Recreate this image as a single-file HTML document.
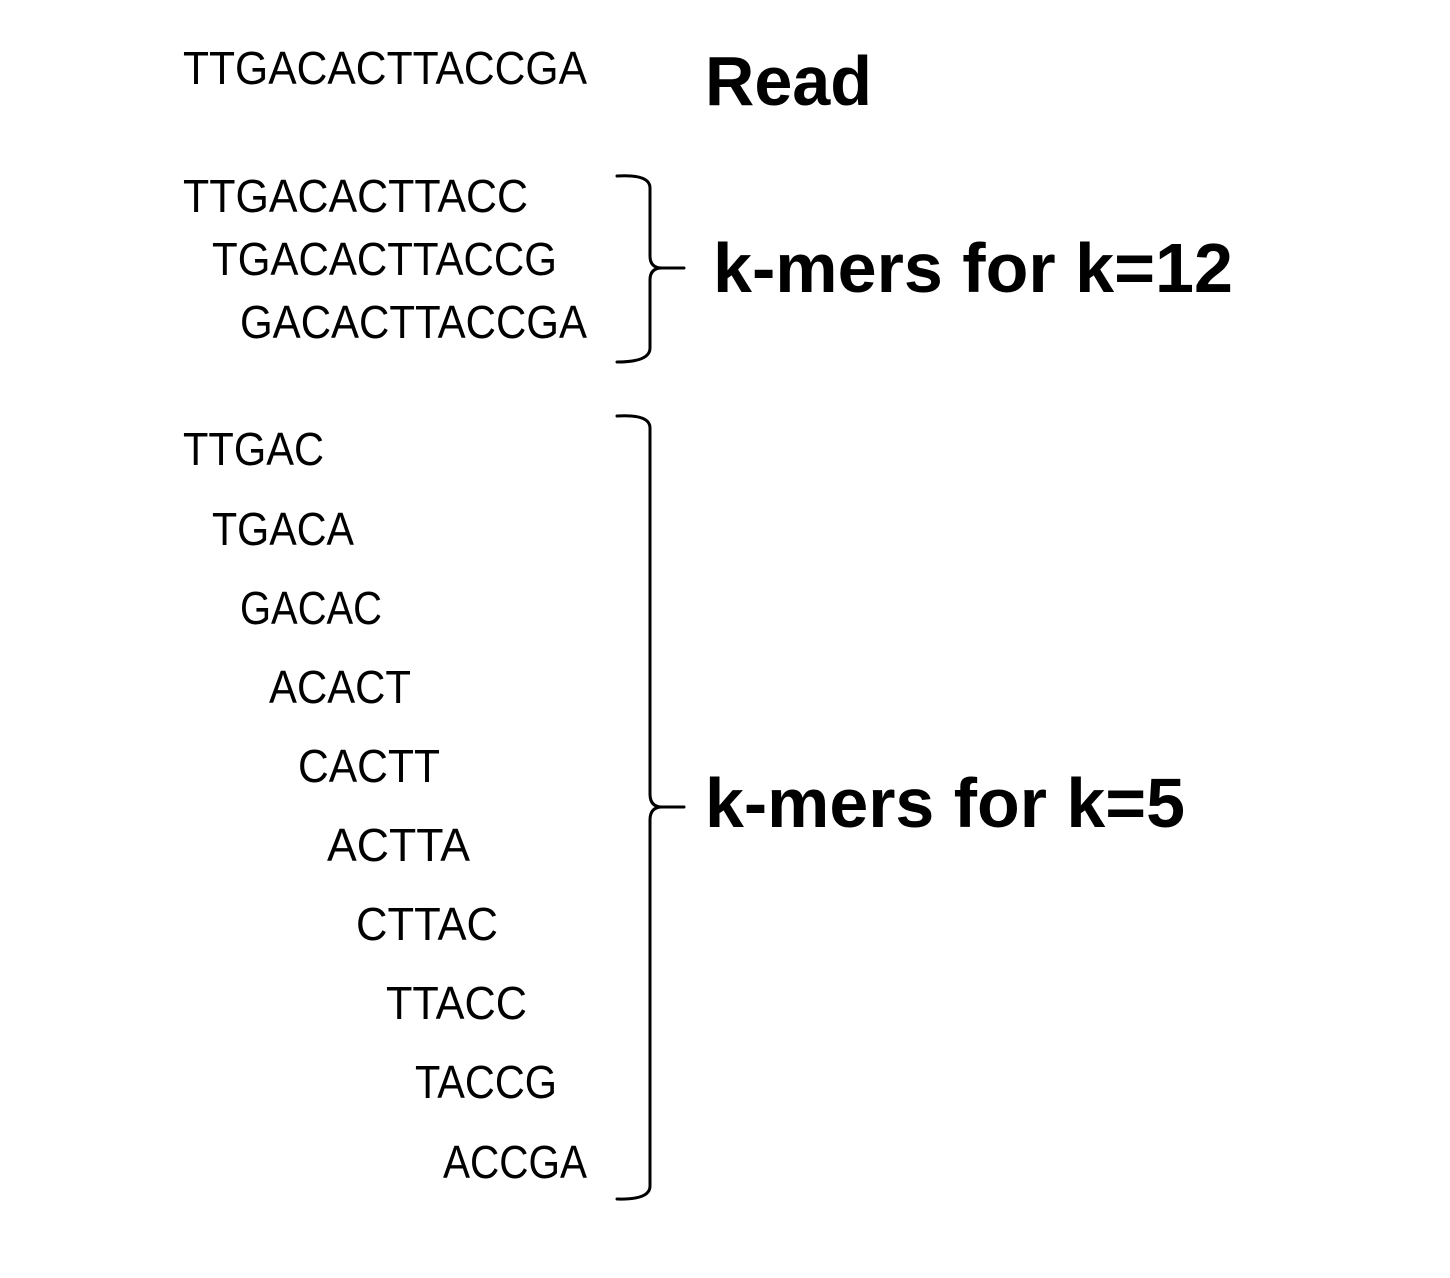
<!DOCTYPE html>
<html><head><meta charset="utf-8"><style>html,body{margin:0;padding:0;background:#fff}svg{display:block}</style></head>
<body>
<svg width="1450" height="1278" viewBox="0 0 1450 1278" xmlns="http://www.w3.org/2000/svg">
<g font-family="Liberation Sans, sans-serif" font-size="46" fill="#000">
<text x="183" y="84" textLength="404" lengthAdjust="spacingAndGlyphs">TTGACACTTACCGA</text>
<text x="183" y="212" textLength="345" lengthAdjust="spacingAndGlyphs">TTGACACTTACC</text>
<text x="212" y="275" textLength="345" lengthAdjust="spacingAndGlyphs">TGACACTTACCG</text>
<text x="240" y="338" textLength="347" lengthAdjust="spacingAndGlyphs">GACACTTACCGA</text>
<text x="183" y="465" textLength="141" lengthAdjust="spacingAndGlyphs">TTGAC</text>
<text x="212" y="545" textLength="142" lengthAdjust="spacingAndGlyphs">TGACA</text>
<text x="240" y="624" textLength="142" lengthAdjust="spacingAndGlyphs">GACAC</text>
<text x="269" y="703" textLength="142" lengthAdjust="spacingAndGlyphs">ACACT</text>
<text x="298" y="782" textLength="142" lengthAdjust="spacingAndGlyphs">CACTT</text>
<text x="327" y="861" textLength="143" lengthAdjust="spacingAndGlyphs">ACTTA</text>
<text x="356" y="940" textLength="142" lengthAdjust="spacingAndGlyphs">CTTAC</text>
<text x="386" y="1019" textLength="141" lengthAdjust="spacingAndGlyphs">TTACC</text>
<text x="415" y="1098" textLength="142" lengthAdjust="spacingAndGlyphs">TACCG</text>
<text x="443" y="1178" textLength="144" lengthAdjust="spacingAndGlyphs">ACCGA</text>
</g>
<g font-family="Liberation Sans, sans-serif" font-weight="bold" font-size="70" fill="#000">
<text x="705" y="105" textLength="167" lengthAdjust="spacingAndGlyphs">Read</text>
<text x="713" y="292" textLength="520" lengthAdjust="spacingAndGlyphs">k-mers for k=12</text>
<text x="705" y="827" textLength="480" lengthAdjust="spacingAndGlyphs">k-mers for k=5</text>
</g>
<g fill="none" stroke="#000" stroke-width="3" stroke-linecap="round">
<path d="M617,176 Q650,174 650,188 L650,256 Q650,268 662,268 L684,268 M662,268 Q650,268 650,280 L650,348 Q650,362 617,362"/>
<path d="M617,416 Q650,414 650,428 L650,794 Q650,807 662,807 L684,807 M662,807 Q650,807 650,820 L650,1186 Q650,1200 617,1199"/>
</g>
</svg>
</body></html>
